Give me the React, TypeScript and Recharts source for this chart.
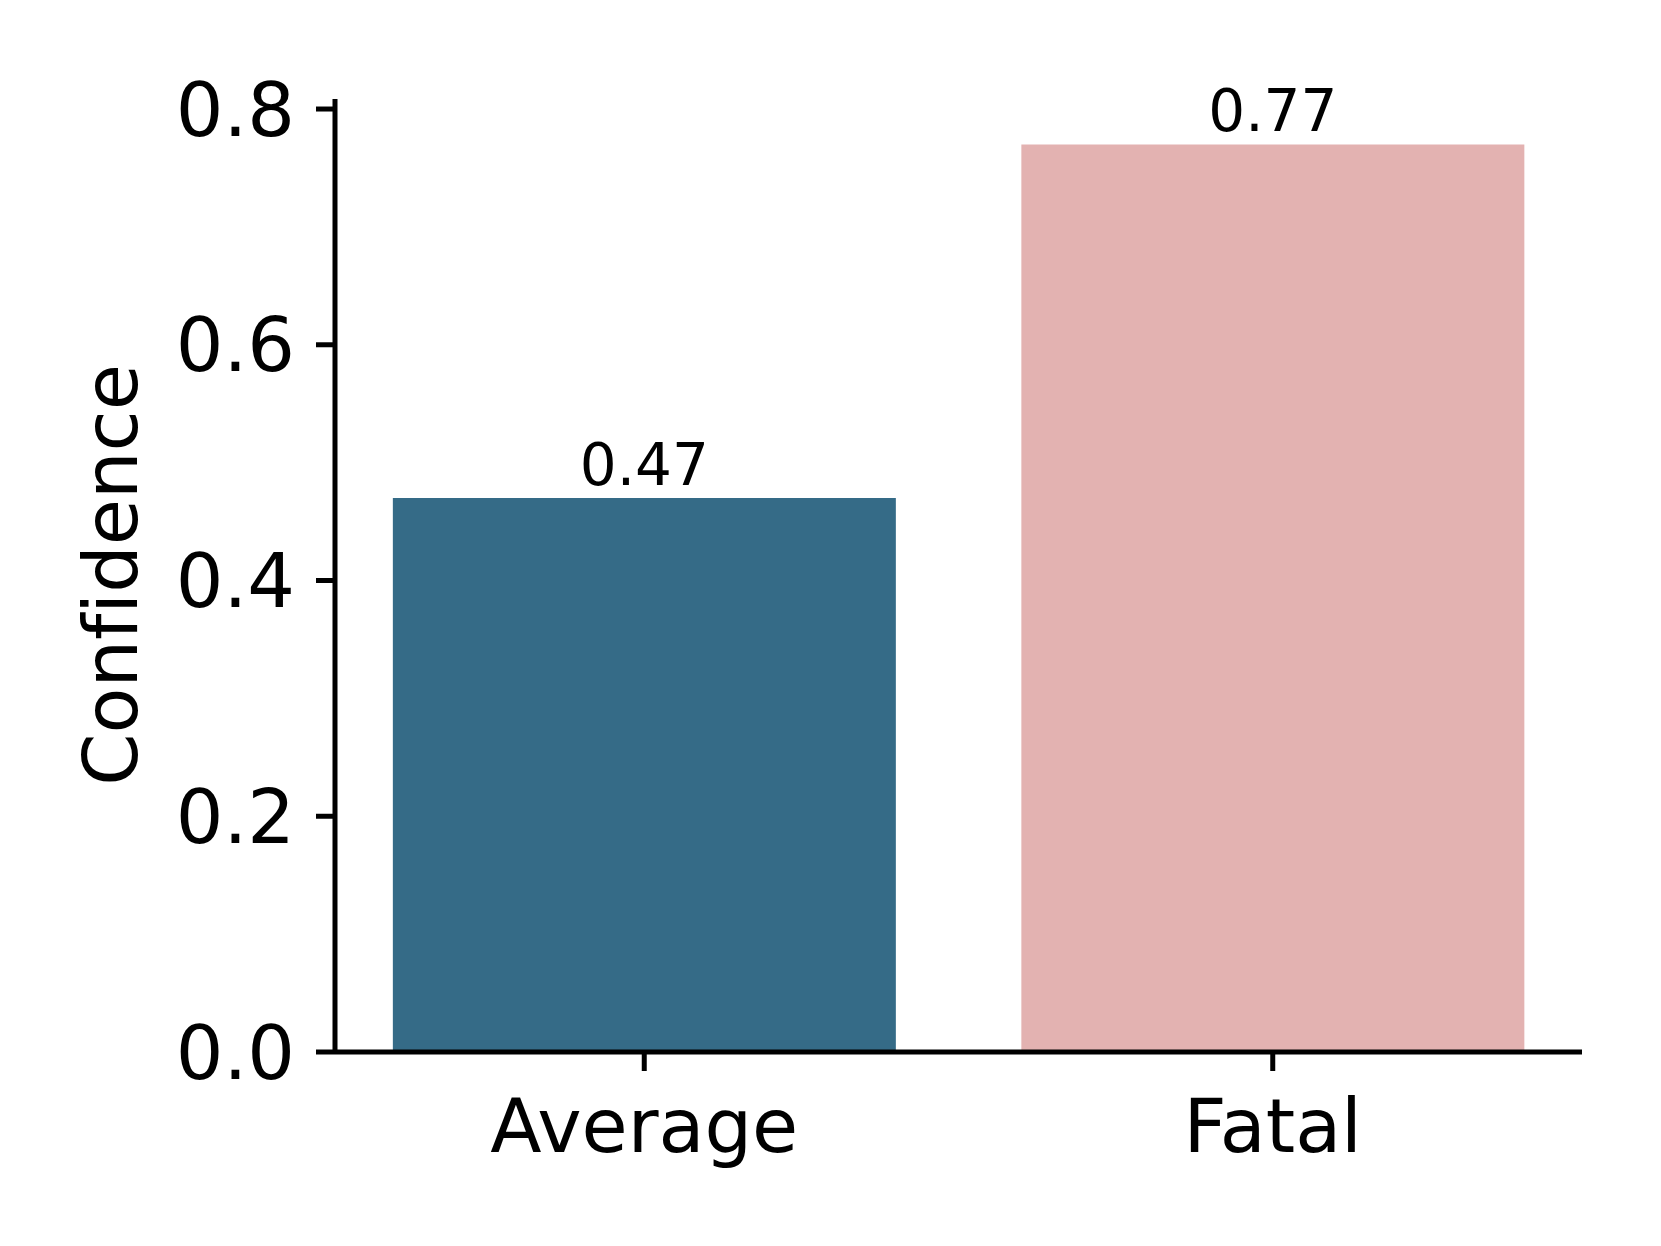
import { BarChart, Bar, XAxis, YAxis, Cell, LabelList } from "recharts"

const categories = ["Average", "Fatal"]
const confidence = [0.47, 0.77]
const barColors = ["#356b87", "#e3b2b1"]
const yTicks = [0, 0.2, 0.4, 0.6, 0.8]

const FONT = "'DejaVu Sans', sans-serif"

const data = categories.map((name, i) => ({ name, value: confidence[i] }))

const YLabel = () => (
    <text
        x={137}
        y={575}
        transform="rotate(-90, 137, 575)"
        textAnchor="middle"
        fontSize={75}
        fontFamily={FONT}
        fill="#000"
        style={{ fontVariantLigatures: "none" }}
    >
        Confidence
    </text>
)

export default function App() {
    return (
        <div style={{ position: "absolute", left: 0, top: 0, width: 1661, height: 1246, background: "#fff" }}>
            <BarChart
                width={1661}
                height={1246}
                data={data}
                margin={{ top: 99, right: 79, bottom: 74, left: 0 }}
                barCategoryGap="10%"
            >
                <XAxis
                    dataKey="name"
                    height={120}
                    padding={{ left: -5, right: -5 }}
                    axisLine={{ stroke: "#000", strokeWidth: 5 }}
                    tickLine={{ stroke: "#000", strokeWidth: 5 }}
                    tickSize={19}
                    tickMargin={28}
                    tick={{ fontSize: 75, fontFamily: FONT, fill: "#000" }}
                />
                <YAxis
                    width={335}
                    domain={[0, 0.8085]}
                    ticks={yTicks}
                    allowDataOverflow
                    tickFormatter={(v: number) => v.toFixed(1)}
                    axisLine={{ stroke: "#000", strokeWidth: 5 }}
                    tickLine={{ stroke: "#000", strokeWidth: 5 }}
                    tickSize={19}
                    tickMargin={21}
                    tick={{ fontSize: 75, fontFamily: FONT, fill: "#000" }}
                    label={{ content: YLabel }}
                />
                <Bar dataKey="value" isAnimationActive={false}>
                    {data.map((row, i) => (
                        <Cell key={row.name} fill={barColors[i]} />
                    ))}
                    <LabelList
                        dataKey="value"
                        position="top"
                        offset={13}
                        formatter={(v: number) => v.toFixed(2)}
                        style={{ fontSize: 58, fontFamily: FONT, fill: "#000" }}
                    />
                </Bar>
            </BarChart>
        </div>
    )
}
